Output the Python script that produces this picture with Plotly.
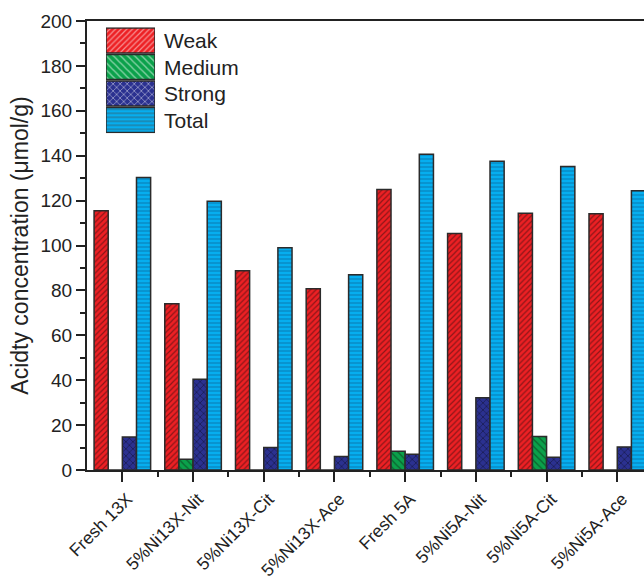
import plotly.graph_objects as go

# Acid site distribution per sample (µmol/g)
CATEGORIES = ["Fresh 13X", "5%Ni13X-Nit", "5%Ni13X-Cit", "5%Ni13X-Ace",
              "Fresh 5A", "5%Ni5A-Nit", "5%Ni5A-Cit", "5%Ni5A-Ace"]
WEAK = [115.5, 74.1, 88.7, 80.7, 125.0, 105.4, 114.4, 114.1]
MEDIUM = [0, 4.8, 0, 0, 8.3, 0, 14.9, 0]
STRONG = [14.7, 40.4, 10.0, 6.0, 7.0, 32.2, 5.7, 10.3]
TOTAL = [130.3, 119.7, 99.0, 87.0, 140.6, 137.5, 135.2, 124.4]
Y_TICKS = list(range(0, 201, 20))

SERIES_NAMES = ["Weak", "Medium", "Strong", "Total"]
SERIES_VALUES = [WEAK, MEDIUM, STRONG, TOTAL]
COLORS = ["#ED2024", "#0BA14B", "#2B3190", "#06AEEF"]
PATTERNS = ["/", "\\", "x", "-"]
PATTERN_FG = ["#2a0c0c", "#0d2a14", "#0a0a1e", "#0b5d8e"]
PATTERN_SIZE = [4, 5, 5, 4]
PATTERN_SOLID = [0.3, 0.28, 0.3, 0.32]
OUTLINE = "#2b2b2b"
FONT = "Liberation Sans, Arial, sans-serif"

x_pos = list(range(len(CATEGORIES)))

fig = go.Figure()
for name, vals, col, shp, fg, sz, so in zip(SERIES_NAMES, SERIES_VALUES, COLORS,
                                            PATTERNS, PATTERN_FG, PATTERN_SIZE,
                                            PATTERN_SOLID):
    fig.add_trace(go.Bar(
        x=x_pos, y=vals, name=name, showlegend=False,
        marker=dict(color=col, line=dict(color=OUTLINE, width=1.5),
                    pattern=dict(shape=shp, fgcolor=fg, size=sz, solidity=so,
                                 fillmode="overlay")),
    ))

# Legend keys drawn as large patterned swatches on a small inset axis
fig.add_trace(go.Bar(
    x=[1] * len(SERIES_NAMES), y=list(range(len(SERIES_NAMES))), orientation="h",
    width=0.94, xaxis="x2", yaxis="y2", showlegend=False, hoverinfo="skip",
    marker=dict(color=COLORS, line=dict(color=OUTLINE, width=1.5),
                pattern=dict(shape=PATTERNS, fgcolor=PATTERN_FG, size=PATTERN_SIZE,
                             solidity=PATTERN_SOLID, fillmode="overlay")),
))

leg_top, leg_bot = 0.986, 0.750
row_h = (leg_top - leg_bot) / len(SERIES_NAMES)
for i, name in enumerate(SERIES_NAMES):
    fig.add_annotation(
        text=name, xref="paper", yref="paper", x=0.134, y=leg_top - (i + 0.5) * row_h,
        xanchor="left", yanchor="middle", showarrow=False,
        font=dict(family=FONT, size=21, color="#222"),
    )

fig.update_layout(
    width=644, height=579,
    margin=dict(l=87, r=0, t=21, b=109, autoexpand=False),
    paper_bgcolor="white", plot_bgcolor="white",
    barmode="group", bargap=0.2, bargroupgap=0,
    font=dict(family=FONT, size=19, color="#222"),
    xaxis=dict(
        range=[-0.5, 7.378], tickmode="array", tickvals=x_pos, ticktext=CATEGORIES,
        tickangle=-45, ticks="outside", ticklen=10, tickwidth=1.5, tickcolor="#222",
        showline=True, linecolor="#222", linewidth=2, mirror=True,
        showgrid=False, zeroline=False, automargin=False,
        ticklabelstandoff=0, ticklabelshift=5,
        tickfont=dict(family=FONT, size=17.5, color="#222"),
        minor=dict(tickmode="array", tickvals=[p + 0.5 for p in x_pos],
                   ticks="outside", ticklen=5, tickwidth=1.5, tickcolor="#222"),
    ),
    yaxis=dict(
        range=[0, 200], tickmode="array", tickvals=Y_TICKS,
        ticks="outside", ticklen=9, tickwidth=1.5, tickcolor="#222",
        showline=True, linecolor="#222", linewidth=2,
        showgrid=False, zeroline=False, automargin=False,
        tickfont=dict(family=FONT, size=19, color="#222"),
        minor=dict(dtick=10, ticks="outside", ticklen=5, tickwidth=1.5,
                   tickcolor="#222"),
        title=dict(text="Acidty concentration (μmol/g)", standoff=5,
                   font=dict(family=FONT, size=23, color="#222")),
    ),
    xaxis2=dict(domain=[0.0341, 0.1221], range=[0, 1], anchor="y2",
                visible=False, fixedrange=True),
    yaxis2=dict(domain=[leg_bot, leg_top], range=[len(SERIES_NAMES) - 0.5, -0.5],
                anchor="x2", visible=False, fixedrange=True),
)

fig.write_html("out.html")
